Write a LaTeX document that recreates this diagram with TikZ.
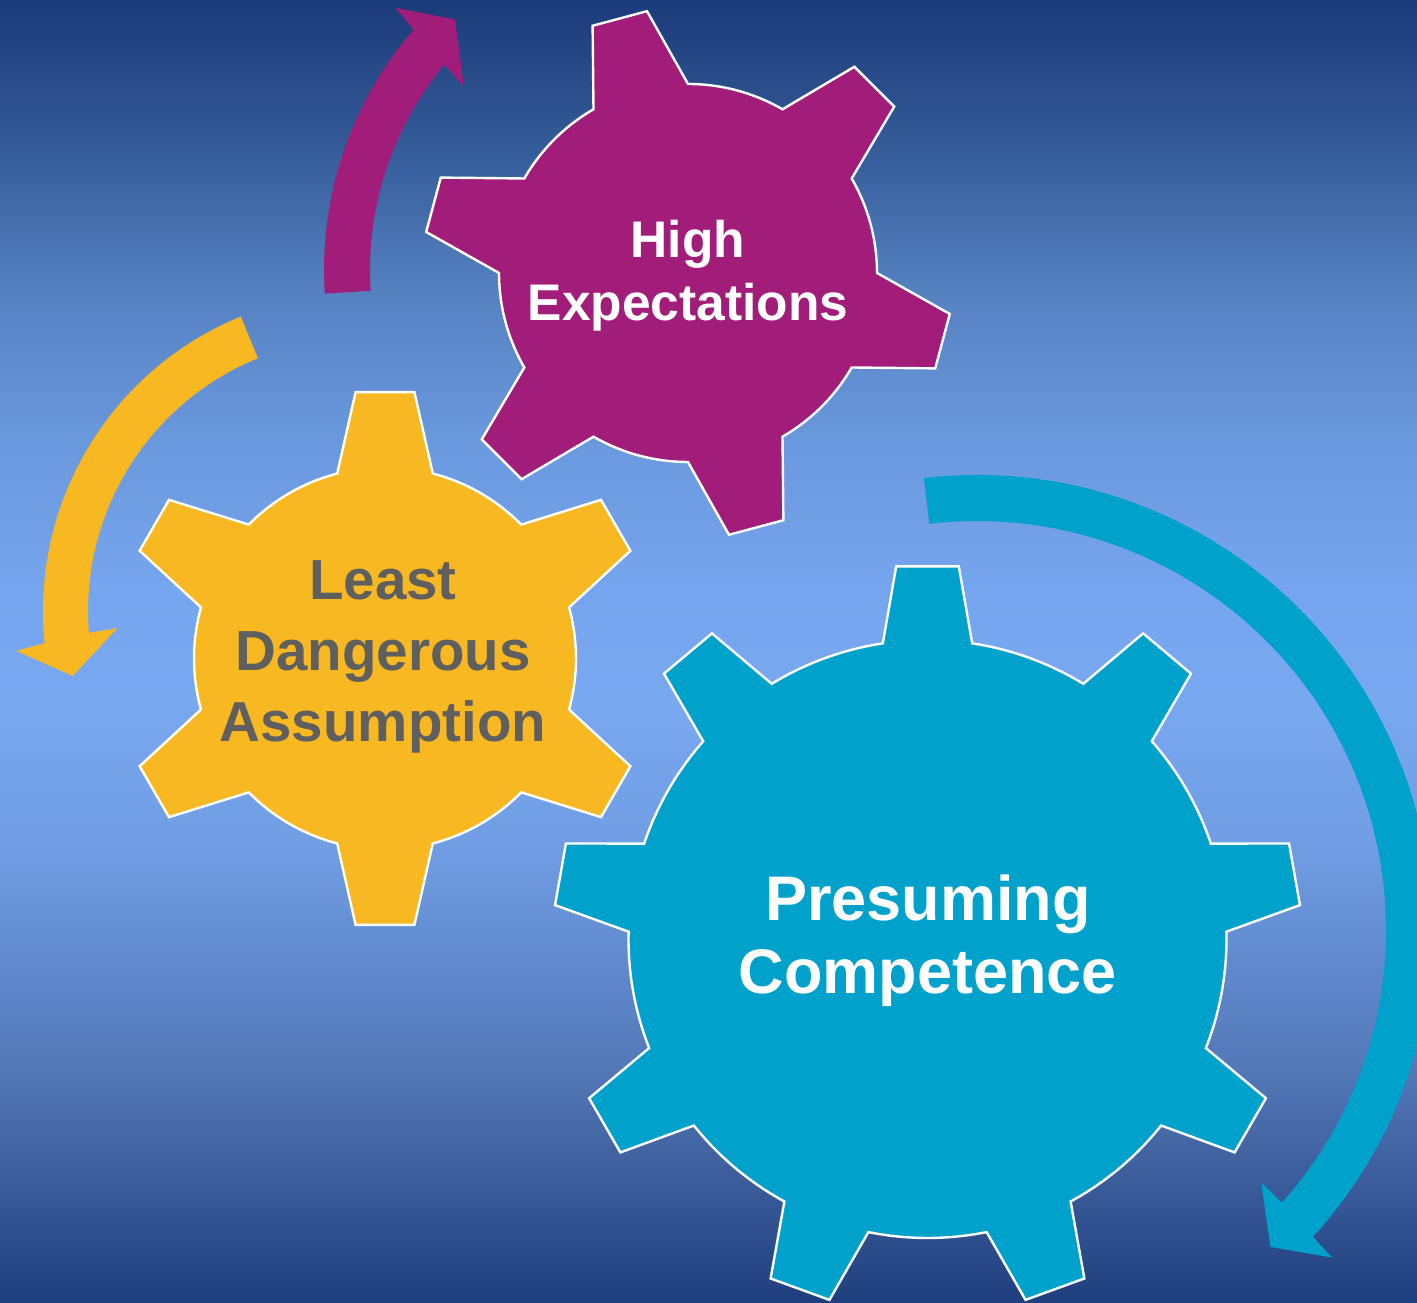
\documentclass[tikz,border=0pt]{standalone}
\usepackage{fontspec}
\setmainfont{Liberation Sans}

% palette
\definecolor{gearpurple}{HTML}{A21C7A}
\definecolor{gearyellow}{HTML}{F8B821}
\definecolor{gearteal}{HTML}{00A1CB}
\definecolor{labelgray}{HTML}{5F5F5F}

% background stops, bottom to top
\definecolor{bgA}{RGB}{30,62,126}
\definecolor{bgB}{RGB}{55,88,150}
\definecolor{bgC}{RGB}{83,120,184}
\definecolor{bgD}{RGB}{112,157,228}
\definecolor{bgE}{RGB}{120,168,240}
\definecolor{bgF}{RGB}{117,165,238}
\definecolor{bgG}{RGB}{106,152,221}
\definecolor{bgH}{RGB}{84,128,192}
\definecolor{bgI}{RGB}{52,90,152}
\definecolor{bgJ}{RGB}{27,58,122}

% the filled path covers the inner 25bp--75bp band of the shading
\pgfdeclareverticalshading{backdrop}{100bp}{%
  color(0bp)=(bgA); color(25bp)=(bgA); color(29bp)=(bgB); color(34bp)=(bgC);
  color(42.5bp)=(bgD); color(48bp)=(bgE); color(52.5bp)=(bgF);
  color(58.25bp)=(bgG); color(64bp)=(bgH); color(69.5bp)=(bgI);
  color(75bp)=(bgJ); color(100bp)=(bgJ)}

\tikzset{
  gearbody/.style={draw=white, line width=2.4pt, line join=miter},
  gearlabel/.style={inner sep=0pt, align=center},
}

% #1 centre, #2 colour, #3 root radius, #4 tip radius, #5 teeth,
% #6 first tooth angle, #7 half-angle at root, #8 half-angle at tip
\newcommand{\drawgear}[8]{%
  \begin{scope}[shift={(#1)}]
    \pgfmathsetmacro{\gearpitch}{360/#5}
    \pgfmathtruncatemacro{\gearlast}{#5-1}
    \path[gearbody, fill=#2] ({#6-#7}:#3)
      \foreach \i in {0,...,\gearlast} {
        -- ({#6+\i*\gearpitch-#8}:#4) -- ({#6+\i*\gearpitch+#8}:#4)
        -- ({#6+\i*\gearpitch+#7}:#3)
        arc[start angle={#6+\i*\gearpitch+#7}, end angle={#6+(\i+1)*\gearpitch-#7}, radius=#3]
      } -- cycle;
  \end{scope}}

\begin{document}
\begin{tikzpicture}[x=1pt, y=1pt]
  \path[use as bounding box, clip] (0,0) rectangle (1417,1303);
  \shade[shading=backdrop] (0,0) rectangle (1417,1303);

  % centres
  \coordinate (gearHE)  at (688,1030);
  \coordinate (gearLDA) at (385,644.5);
  \coordinate (gearPC)  at (927.5,364);
  \coordinate (turnHE)  at (691,1033);
  \coordinate (turnLDA) at (361,692);
  \coordinate (turnPC)  at (977,373);

  % circular arrows
  \begin{scope}[shift={(turnHE)}]
    \path[fill=gearpurple] (183.7:367) arc[start angle=183.7, end angle=139.1, radius=367]
      -- (138.4:395) -- (133.3:344) -- (141.1:292) -- (140.2:321)
      arc[start angle=140.2, end angle=183.7, radius=321] -- cycle;
  \end{scope}
  \begin{scope}[shift={(turnLDA)}]
    \path[fill=gearyellow] (112.2:318) arc[start angle=112.2, end angle=185.8, radius=318]
      -- (186.6:347) -- (192.7:295.5) -- (184:244) -- (184.6:273)
      arc[start angle=184.6, end angle=112.2, radius=273] -- cycle;
  \end{scope}
  \begin{scope}[shift={(turnPC)}]
    \path[fill=gearteal] (96.7:455) arc[start angle=96.7, end angle=-42.4, radius=455]
      -- (-42.7:483) -- (-47.2:432) -- (-41.6:380) -- (-41.8:409)
      arc[start angle=-41.8, end angle=96.7, radius=409] -- cycle;
  \end{scope}

  % gears
  \drawgear{gearHE}{gearpurple}{189}{265}{6}{105}{15}{6.1}
  \drawgear{gearLDA}{gearyellow}{191}{268}{6}{90}{14.5}{6.3}
  \drawgear{gearPC}{gearteal}{299}{374}{9}{90}{8.6}{4.8}

  % labels
  \node[gearlabel, text=white, font=\bfseries\fontsize{51.5}{63}\selectfont]
    (labelHE) at (688,1027.4) {High\\Expectations};
  \node[gearlabel, text=labelgray, font=\bfseries\fontsize{56.5}{71}\selectfont]
    (labelLDA) at (383,646) {Least\\Dangerous\\Assumption};
  \node[gearlabel, text=white, font=\bfseries\fontsize{63}{73}\selectfont]
    (labelPC) at (928,362.1) {Presuming\\Competence};
\end{tikzpicture}
\end{document}
